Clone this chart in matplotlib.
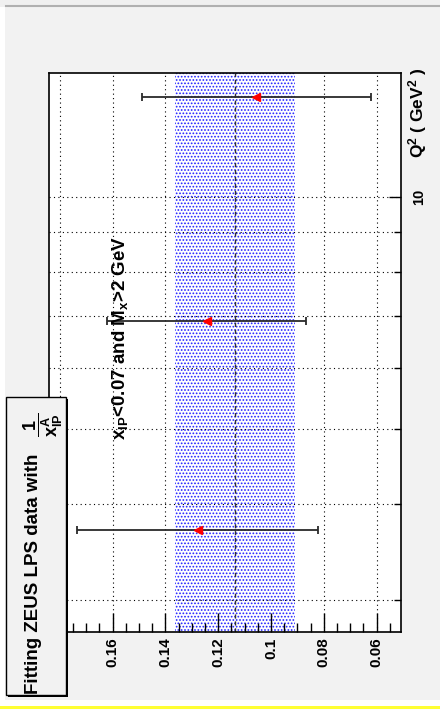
import matplotlib
matplotlib.use("Agg")
import matplotlib.pyplot as plt
from matplotlib.patches import Rectangle
from matplotlib.lines import Line2D
from matplotlib.ticker import FixedLocator, MultipleLocator, NullFormatter

plt.rcParams['font.family'] = ['Liberation Sans', 'DejaVu Sans']
plt.rcParams['font.weight'] = 'bold'
plt.rcParams['mathtext.fontset'] = 'custom'
plt.rcParams['mathtext.rm'] = 'Liberation Sans:bold'
plt.rcParams['mathtext.it'] = 'Liberation Sans:bold'
plt.rcParams['mathtext.bf'] = 'Liberation Sans:bold'
plt.rcParams['mathtext.default'] = 'bf'
plt.rcParams['hatch.linewidth'] = 0.8

# ZEUS LPS points (Q^2 bin, fitted value, error)
q2 = [3.7, 6.9, 13.5]
val = [0.1278, 0.1243, 0.1056]
err = [0.0456, 0.0377, 0.0433]

# constant fit and its error band
fit_val = 0.1136
fit_err = 0.0228

val_ticks = [0.18, 0.16, 0.14, 0.12, 0.1, 0.08, 0.06]
val_labels = ['0.18', '0.16', '0.14', '0.12', '0.1', '0.08', '0.06']
q2_major = [10]
q2_minor = [3, 4, 5, 6, 7, 8, 9]

W, H = 440, 719


def fx(x):
    return x / W


def fy(y):
    return 1 - y / H


fig = plt.figure(figsize=(4.4, 7.19), dpi=100, facecolor='#f2f2f2')

# window border bits
fig.add_artist(Rectangle((0, 0), fx(5), 1, transform=fig.transFigure,
                         facecolor='white', edgecolor='none', zorder=-1))
fig.add_artist(Rectangle((0, fy(7)), 1, fy(0) - fy(7), transform=fig.transFigure,
                         facecolor='#f0f0f0', edgecolor='none', zorder=-1))
fig.add_artist(Line2D([fx(6), 1], [fy(6), fy(6)], transform=fig.transFigure,
                      color='#b0b0b0', lw=1.5, zorder=-1))
fig.add_artist(Rectangle((0, 0), 1, fy(700), transform=fig.transFigure,
                         facecolor='white', edgecolor='none', zorder=-1))
fig.add_artist(Rectangle((0, fy(709)), 1, fy(706) - fy(709), transform=fig.transFigure,
                         facecolor='#ffff33', edgecolor='none', zorder=-1))

ax = fig.add_axes([fx(49), fy(631.7), fx(400.7 - 49), (631.7 - 73.3) / H])
ax.set_facecolor('white')

ax.axvspan(fit_val - fit_err, fit_val + fit_err, facecolor='white',
           edgecolor='#2020ff', hatch='.....', lw=0, zorder=1)
ax.axvline(fit_val, color='#303030', lw=1.0, ls=(0, (3, 2)), zorder=2)

ax.errorbar(val, q2, xerr=err, fmt='<', color='red', ms=5.5,
            ecolor='#2a2a2a', elinewidth=1.3, capsize=3, capthick=1.3, zorder=3)

ax.set_yscale('log')
ax.set_xlim(0.1841, 0.0509)
ax.set_ylim(2.73, 14.47)

# vertical grid only where the band does not cover it
grid_x = [t for t in val_ticks if abs(t - fit_val) > fit_err]
ax.vlines(grid_x, 0, 1, transform=ax.get_xaxis_transform(), color='black',
          lw=0.8, ls=(0, (1, 3)), zorder=0.5)

ax.xaxis.set_major_locator(FixedLocator(val_ticks))
ax.set_xticklabels(val_labels, rotation=90, fontsize=11)
ax.xaxis.set_minor_locator(MultipleLocator(0.005))
ax.yaxis.set_major_locator(FixedLocator(q2_major))
ax.yaxis.set_minor_locator(FixedLocator(q2_minor))
ax.set_yticklabels(['10'], rotation=90, fontsize=10.5)
ax.yaxis.set_minor_formatter(NullFormatter())

ax.tick_params(axis='x', which='both', direction='in', top=False, bottom=True, pad=4)
ax.tick_params(axis='x', which='major', length=13.5, width=1)
ax.tick_params(axis='x', which='minor', length=6.5, width=1)
ax.tick_params(axis='y', which='both', direction='in', left=False, right=True,
               labelleft=False, labelright=True, pad=8)
ax.tick_params(axis='y', which='major', length=8.5, width=1)
ax.tick_params(axis='y', which='minor', length=5, width=1)
for lab in ax.get_yticklabels():
    lab.set_va('center')

ax.grid(True, axis='y', which='both', color='black', lw=0.8, ls=(0, (1, 3)))
ax.set_axisbelow(False)
for s in ax.spines.values():
    s.set_linewidth(1.2)

fig.text(fx(418), fy(68), r'Q$^{2}$ ( GeV$^{2}$ )', rotation=90,
         ha='center', va='top', fontsize=12.5)
fig.text(fx(120), fy(338), r'x$_{IP}$<0.07 and M$_{x}$>2 GeV', rotation=90,
         ha='center', va='center', fontsize=13.5)

# title box with shadow
fig.add_artist(Rectangle((fx(8), fy(697)), fx(60), (697 - 399) / H,
                         transform=fig.transFigure, facecolor='black',
                         edgecolor='none', zorder=5))
fig.add_artist(Rectangle((fx(6), fy(695)), fx(60), (695 - 397) / H,
                         transform=fig.transFigure, facecolor='#f2f2f2',
                         edgecolor='black', lw=1, zorder=6))
fig.text(fx(34), fy(694), 'Fitting ZEUS LPS data with', rotation=90,
         ha='center', va='bottom', fontsize=13.5, zorder=7)
fig.text(fx(43), fy(425), r'$\dfrac{1}{x_{IP}^{A}}$', rotation=90,
         ha='center', va='center', fontsize=13, zorder=7)

fig.savefig('out.png', dpi=100, facecolor=fig.get_facecolor())
